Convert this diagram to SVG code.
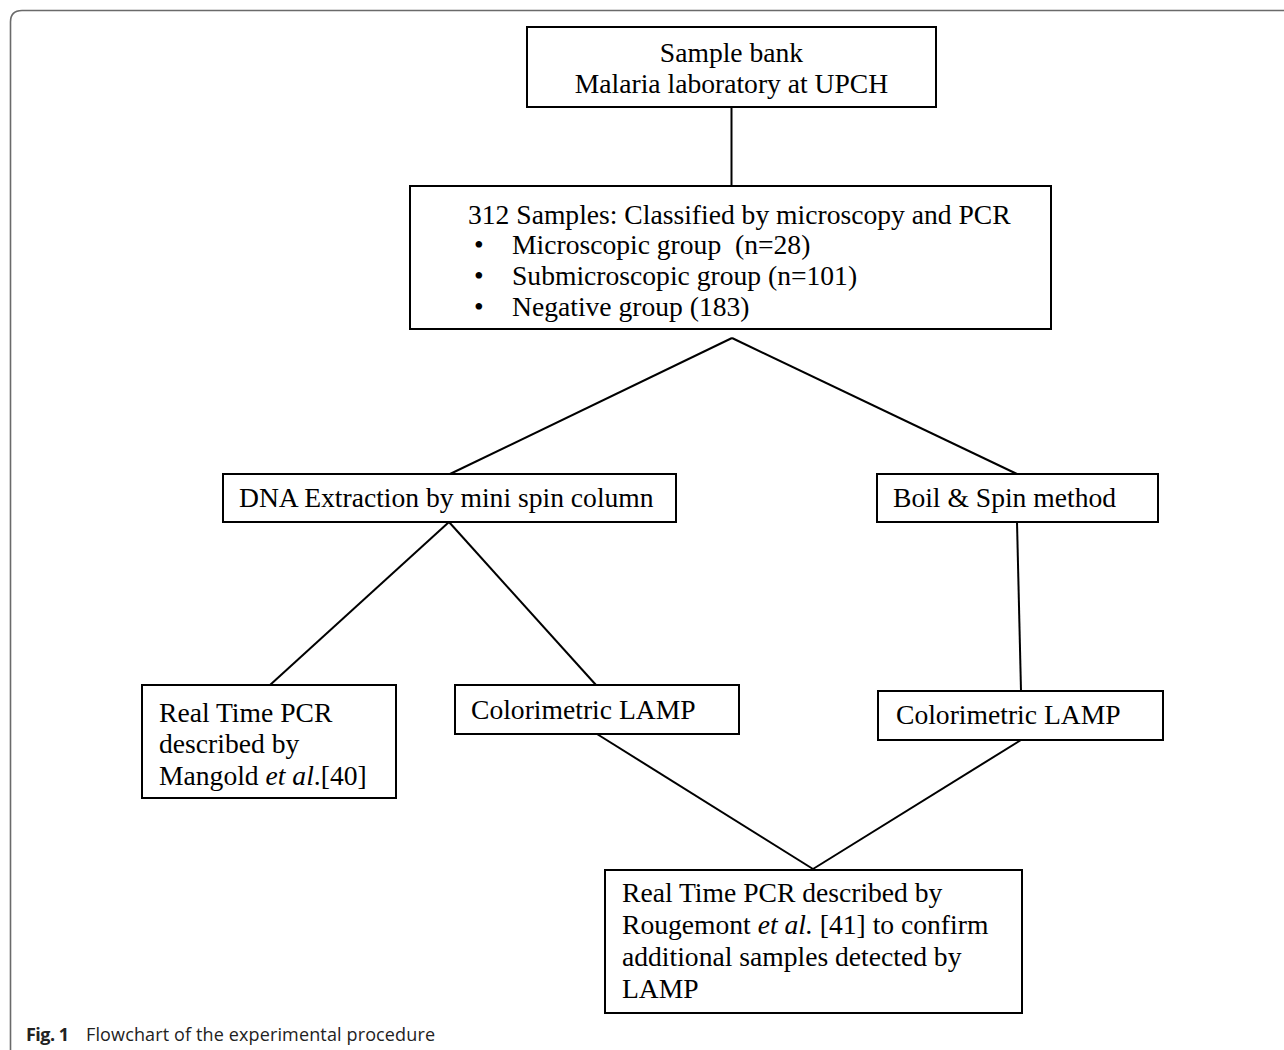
<svg xmlns="http://www.w3.org/2000/svg" width="1284" height="1050" viewBox="0 0 1284 1050">
<style>
.box{fill:#fff;stroke:#000;stroke-width:2}
.t{font-family:"Liberation Serif","Times New Roman",serif;font-size:27.6px;fill:#000}
.conn line{stroke:#000;stroke-width:2}
.cap{font-family:"Open Sans","Noto Sans","Liberation Sans",sans-serif;font-size:18px;fill:#222}
</style>
<rect width="1284" height="1050" fill="#fff"/>
<path d="M10.5 1052 V22 Q10.5 10.5 22 10.5 H1290" fill="none" stroke="#6a6a6a" stroke-width="1.6"/>
<g id="connectors" class="conn">
<line x1="731.5" y1="107" x2="731.5" y2="186"/>
<line x1="732" y1="338" x2="450" y2="474"/>
<line x1="732" y1="338" x2="1017" y2="474"/>
<line x1="449" y1="522" x2="270" y2="685"/>
<line x1="449" y1="522" x2="596" y2="685"/>
<line x1="1017" y1="522" x2="1021" y2="691"/>
<line x1="597" y1="734" x2="813" y2="869"/>
<line x1="1021" y1="740" x2="813" y2="869"/>
</g>
<g id="sample-bank">
<rect class="box" x="527" y="27" width="409" height="80"/>
<text class="t" x="731.5" y="62" text-anchor="middle">Sample bank</text>
<text class="t" x="731.5" y="93" text-anchor="middle">Malaria laboratory at UPCH</text>
</g>
<g id="samples">
<rect class="box" x="410" y="186" width="641" height="143"/>
<text class="t" x="468" y="224">312 Samples: Classified by microscopy and PCR</text>
<text class="t" x="474" y="254">•</text>
<text class="t" x="512" y="254" xml:space="preserve">Microscopic group  (n=28)</text>
<text class="t" x="474" y="285">•</text>
<text class="t" x="512" y="285">Submicroscopic group (n=101)</text>
<text class="t" x="474" y="316">•</text>
<text class="t" x="512" y="316">Negative group (183)</text>
</g>
<g id="dna-extraction">
<rect class="box" x="223" y="474" width="453" height="48"/>
<text class="t" x="239" y="507">DNA Extraction by mini spin column</text>
</g>
<g id="boil-spin">
<rect class="box" x="877" y="474" width="281" height="48"/>
<text class="t" x="893" y="507">Boil &amp; Spin method</text>
</g>
<g id="rt-pcr-mangold">
<rect class="box" x="142" y="685" width="254" height="113"/>
<text class="t" x="159" y="722">Real Time PCR</text>
<text class="t" x="159" y="753">described by</text>
<text class="t" x="159" y="785">Mangold <tspan font-style="italic">et al</tspan>.[40]</text>
</g>
<g id="lamp-left">
<rect class="box" x="455" y="685" width="284" height="49"/>
<text class="t" x="471" y="719">Colorimetric LAMP</text>
</g>
<g id="lamp-right">
<rect class="box" x="878" y="691" width="285" height="49"/>
<text class="t" x="896" y="724">Colorimetric LAMP</text>
</g>
<g id="rt-pcr-rougemont">
<rect class="box" x="605" y="870" width="417" height="143"/>
<text class="t" x="622" y="902">Real Time PCR described by</text>
<text class="t" x="622" y="934">Rougemont <tspan font-style="italic">et al.</tspan> [41] to confirm</text>
<text class="t" x="622" y="966">additional samples detected by</text>
<text class="t" x="622" y="998">LAMP</text>
</g>
<text class="cap" x="26" y="1041"><tspan font-weight="bold" textLength="43">Fig. 1</tspan><tspan x="86" textLength="349">Flowchart of the experimental procedure</tspan></text>
</svg>
